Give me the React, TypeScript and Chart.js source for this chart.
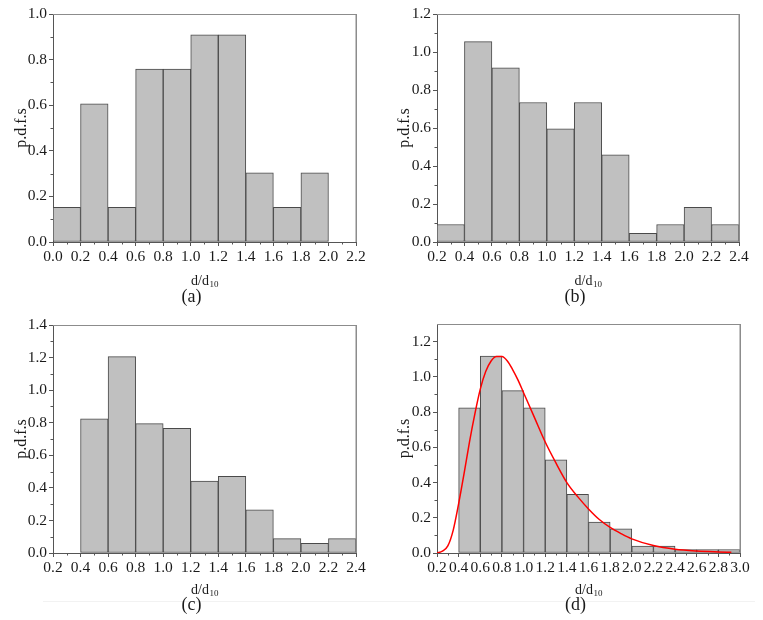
import React, { useEffect, useRef } from 'react';
import { Chart, registerables } from 'chart.js';

Chart.register(...registerables);

// ---------------- data ----------------
const BIN_WIDTH = 0.2;

const A_BIN_STARTS = [0.0, 0.2, 0.4, 0.6, 0.8, 1.0, 1.2, 1.4, 1.6, 1.8];
const A_VALUES = [0.152, 0.606, 0.152, 0.758, 0.758, 0.909, 0.909, 0.303, 0.152, 0.303];
const A_X_RANGE = [0.0, 2.2];
const A_Y_RANGE = [0.0, 1.0];

const B_BIN_STARTS = [0.2, 0.4, 0.6, 0.8, 1.0, 1.2, 1.4, 1.6, 1.8, 2.0, 2.2];
const B_VALUES = [0.092, 1.055, 0.917, 0.734, 0.596, 0.734, 0.459, 0.046, 0.092, 0.183, 0.092];
const B_X_RANGE = [0.2, 2.4];
const B_Y_RANGE = [0.0, 1.2];

const C_BIN_STARTS = [0.4, 0.6, 0.8, 1.0, 1.2, 1.4, 1.6, 1.8, 2.0, 2.2];
const C_VALUES = [0.824, 1.206, 0.794, 0.765, 0.441, 0.471, 0.265, 0.088, 0.059, 0.088];
const C_X_RANGE = [0.2, 2.4];
const C_Y_RANGE = [0.0, 1.4];

const D_BIN_STARTS = [0.4, 0.6, 0.8, 1.0, 1.2, 1.4, 1.6, 1.8, 2.0, 2.2, 2.4, 2.6, 2.8];
const D_VALUES = [0.824, 1.118, 0.922, 0.824, 0.529, 0.333, 0.176, 0.137, 0.039, 0.039, 0.02, 0.02, 0.02];
const D_X_RANGE = [0.2, 3.0];
const D_Y_RANGE = [0.0, 1.3];

// fitted curve of panel (d)
const FIT_X = [0.2, 0.25, 0.3, 0.35, 0.4, 0.45, 0.5, 0.55, 0.6, 0.65, 0.7, 0.75, 0.8, 0.85, 0.9, 0.95, 1.0,
  1.1, 1.2, 1.3, 1.4, 1.5, 1.6, 1.7, 1.8, 1.9, 2.0, 2.2, 2.4, 2.6, 2.8, 2.92];
const FIT_Y = [0.0, 0.01, 0.04, 0.13, 0.28, 0.45, 0.63, 0.79, 0.93, 1.03, 1.09, 1.115, 1.115, 1.09, 1.04, 0.98, 0.91,
  0.77, 0.63, 0.51, 0.40, 0.32, 0.25, 0.19, 0.145, 0.11, 0.08, 0.042, 0.021, 0.011, 0.006, 0.004];

const PANEL_LABELS = ['(a)', '(b)', '(c)', '(d)'];
const Y_TITLE = 'p.d.f.s';
const X_TITLE_MAIN = 'd/d';
const X_TITLE_SUB = '10';

// ---------------- styles ----------------
const FONT = "'Liberation Serif', 'Times New Roman', serif";
const TEXT_COLOR = '#1a1a1a';
const AXIS_COLOR = '#555555';
const FRAME_COLOR = '#8c8c8c';
const BAR_FILL = '#c0c0c0';
const BAR_EDGE = '#4a4a4a';

type Spec = {
  starts: number[];
  values: number[];
  xRange: number[];
  yRange: number[];
  label: string;
  fit?: { x: number[]; y: number[] };
  box: { left: number; top: number; width: number; height: number };
  area: { left: number; right: number; top: number; bottom: number };
  yTitleX: number;
  xTitleY: number;
  labelY: number;
};

const PANELS: Spec[] = [
  {
    starts: A_BIN_STARTS, values: A_VALUES, xRange: A_X_RANGE, yRange: A_Y_RANGE, label: PANEL_LABELS[0],
    box: { left: 0, top: 0, width: 381, height: 310 },
    area: { left: 53, right: 356, top: 14, bottom: 242 },
    yTitleX: 26, xTitleY: 281, labelY: 297,
  },
  {
    starts: B_BIN_STARTS, values: B_VALUES, xRange: B_X_RANGE, yRange: B_Y_RANGE, label: PANEL_LABELS[1],
    box: { left: 381, top: 0, width: 382, height: 310 },
    area: { left: 56, right: 358, top: 14, bottom: 242 },
    yTitleX: 28, xTitleY: 281, labelY: 297,
  },
  {
    starts: C_BIN_STARTS, values: C_VALUES, xRange: C_X_RANGE, yRange: C_Y_RANGE, label: PANEL_LABELS[2],
    box: { left: 0, top: 310, width: 381, height: 310 },
    area: { left: 53, right: 356, top: 15, bottom: 243 },
    yTitleX: 26, xTitleY: 280, labelY: 295,
  },
  {
    starts: D_BIN_STARTS, values: D_VALUES, xRange: D_X_RANGE, yRange: D_Y_RANGE, label: PANEL_LABELS[3],
    fit: { x: FIT_X, y: FIT_Y },
    box: { left: 381, top: 310, width: 382, height: 310 },
    area: { left: 56, right: 359, top: 14, bottom: 243 },
    yTitleX: 28, xTitleY: 280, labelY: 295,
  },
];

const decorations = {
  id: 'decorations',
  afterDraw(chart: any, _args: any, opts: any) {
    const { ctx, chartArea, scales } = chart;
    const x = scales.x;
    const y = scales.y;
    ctx.save();
    // frame top & right
    ctx.strokeStyle = FRAME_COLOR;
    ctx.lineWidth = 1;
    ctx.beginPath();
    ctx.moveTo(chartArea.left, chartArea.top + 0.5);
    ctx.lineTo(chartArea.right, chartArea.top + 0.5);
    ctx.stroke();
    ctx.lineWidth = 1.5;
    ctx.beginPath();
    ctx.moveTo(chartArea.right + 0.25, chartArea.top);
    ctx.lineTo(chartArea.right + 0.25, chartArea.bottom);
    ctx.stroke();

    // minor ticks
    ctx.strokeStyle = AXIS_COLOR;
    ctx.lineWidth = 1;
    ctx.beginPath();
    for (let v = x.min + 0.1; v < x.max - 1e-6; v += 0.2) {
      const px = Math.round(x.getPixelForValue(v)) + 0.5;
      ctx.moveTo(px, chartArea.bottom);
      ctx.lineTo(px, chartArea.bottom + 2.5);
    }
    for (let v = y.min + 0.1; v < y.max - 1e-6; v += 0.2) {
      const py = Math.round(y.getPixelForValue(v)) + 0.5;
      ctx.moveTo(chartArea.left, py);
      ctx.lineTo(chartArea.left - 2.5, py);
    }
    ctx.stroke();

    // texts
    ctx.fillStyle = TEXT_COLOR;
    // y title
    ctx.save();
    ctx.translate(opts.yTitleX, (chartArea.top + chartArea.bottom) / 2);
    ctx.rotate(-Math.PI / 2);
    ctx.textAlign = 'center';
    ctx.textBaseline = 'alphabetic';
    ctx.font = `16px ${FONT}`;
    ctx.fillText(Y_TITLE, 0, 0);
    ctx.restore();

    ctx.textBaseline = 'middle';
    // x title with subscript
    const cx = (chartArea.left + chartArea.right) / 2;
    ctx.font = `14px ${FONT}`;
    const wMain = ctx.measureText(X_TITLE_MAIN).width;
    ctx.font = `9px ${FONT}`;
    const wSub = ctx.measureText(X_TITLE_SUB).width;
    const startX = cx - (wMain + wSub) / 2;
    ctx.textAlign = 'left';
    ctx.font = `14px ${FONT}`;
    ctx.fillText(X_TITLE_MAIN, startX, opts.xTitleY);
    ctx.font = `9px ${FONT}`;
    ctx.fillText(X_TITLE_SUB, startX + wMain + 0.5, opts.xTitleY + 4);

    // panel label
    ctx.textAlign = 'center';
    ctx.font = `18px ${FONT}`;
    ctx.fillText(opts.label, cx - 13, opts.labelY);
    ctx.restore();
  },
};

function Panel({ spec }: { spec: Spec }) {
  const ref = useRef<HTMLCanvasElement | null>(null);
  useEffect(() => {
    const canvas = ref.current;
    if (!canvas) return;
    const { box, area } = spec;
    const barData = spec.starts.map((s, i) => ({ x: s + BIN_WIDTH / 2, y: spec.values[i] }));
    const datasets: any[] = [
      {
        type: 'bar',
        data: barData,
        backgroundColor: BAR_FILL,
        borderColor: BAR_EDGE,
        borderWidth: 1,
        borderSkipped: false,
        barPercentage: 1,
        categoryPercentage: 1,
        grouped: false,
        order: 2,
      },
    ];
    if (spec.fit) {
      datasets.push({
        type: 'line',
        data: spec.fit.x.map((xv, i) => ({ x: xv, y: spec.fit!.y[i] })),
        borderColor: '#ff0000',
        borderWidth: 1.5,
        pointRadius: 0,
        tension: 0.4,
        cubicInterpolationMode: 'monotone',
        fill: false,
        order: 1,
      });
    }
    const tickFont = { family: FONT, size: 15.5 };
    const chart = new Chart(canvas, {
      type: 'bar',
      data: { datasets },
      plugins: [decorations],
      options: {
        animation: false,
        responsive: false,
        devicePixelRatio: 1,
        layout: { padding: { left: 0, bottom: 0, top: area.top, right: box.width - area.right } },
        plugins: {
          legend: { display: false },
          tooltip: { enabled: false },
          decorations: { yTitleX: spec.yTitleX, xTitleY: spec.xTitleY, labelY: spec.labelY, label: spec.label },
        } as any,
        scales: {
          x: {
            type: 'linear',
            min: spec.xRange[0],
            max: spec.xRange[1],
            offset: false,
            grid: { offset: false, drawOnChartArea: false, drawTicks: true, tickLength: 4, color: AXIS_COLOR },
            border: { display: true, color: AXIS_COLOR, width: 1 },
            ticks: {
              stepSize: 0.2,
              autoSkip: false,
              maxRotation: 0,
              minRotation: 0,
              padding: 2,
              color: TEXT_COLOR,
              font: tickFont,
              callback: (v: any) => Number(v).toFixed(1),
            },
            afterFit: (s: any) => { s.height = box.height - area.bottom; },
          },
          y: {
            type: 'linear',
            min: spec.yRange[0],
            max: spec.yRange[1],
            grid: { drawOnChartArea: false, drawTicks: true, tickLength: 4, color: AXIS_COLOR },
            border: { display: true, color: AXIS_COLOR, width: 1 },
            ticks: {
              stepSize: 0.2,
              includeBounds: false,
              padding: 2,
              color: TEXT_COLOR,
              font: tickFont,
              callback: (v: any) => Number(v).toFixed(1),
            },
            afterFit: (s: any) => { s.width = area.left; },
          },
        } as any,
      },
    } as any);
    return () => chart.destroy();
  }, [spec]);
  const { box } = spec;
  return (
    <canvas
      ref={ref}
      width={box.width}
      height={box.height}
      style={{ position: 'absolute', left: box.left, top: box.top, width: box.width, height: box.height }}
    />
  );
}

export default function App() {
  return (
    <div style={{ position: 'fixed', left: 0, top: 0, width: 763, height: 620, background: '#ffffff', overflow: 'hidden' }}>
      <div style={{ position: 'absolute', left: 43, top: 601, width: 712, height: 1, background: '#f2f2f2' }} />
      {PANELS.map((p) => (
        <Panel key={p.label} spec={p} />
      ))}
    </div>
  );
}
